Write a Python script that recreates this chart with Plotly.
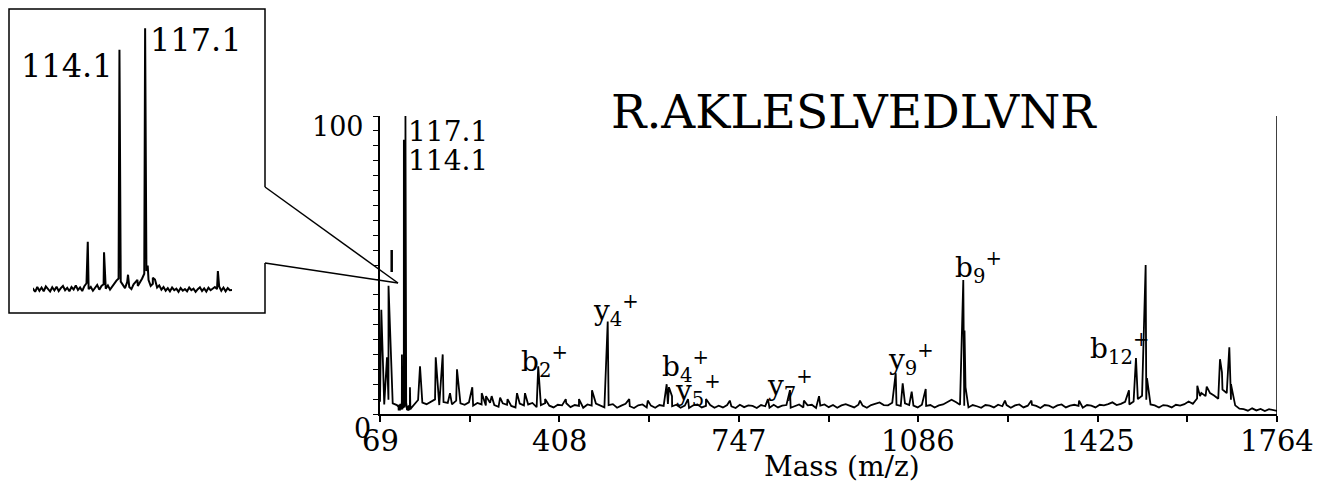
import plotly.graph_objects as go

W, H = 1319, 483
FONT = "DejaVu Serif"

# ---------------- data ----------------
# coarse baseline noise (relative abundance, %), sampled every 8 m/z from 69
base_start = 69
base_step = 8
baseline = [
    4.1, 3.2, 4.8, 3.6, 3.0, 4.6, 3.9, 4.3, 3.1, 4.7, 3.8, 3.3, 4.2, 4.9, 3.0, 4.0, 3.7, 3.2, 4.5, 3.6,
    3.1, 3.9, 2.8, 3.7, 3.2, 2.9, 3.8, 3.0, 2.4, 3.6, 3.1, 2.7, 2.2, 3.5, 2.9, 3.2, 3.7, 2.3, 3.0, 3.6,
    2.8, 2.2, 3.1, 2.9, 3.6, 2.3, 3.0, 2.7, 2.1, 3.2, 2.8, 3.5, 2.9, 2.2, 3.0, 3.3, 2.1, 2.8, 3.4, 2.6,
    2.0, 2.9, 3.2, 2.2, 2.8, 2.1, 3.0, 2.7, 3.4, 2.6, 3.1, 2.1, 2.8, 2.0, 2.9, 3.2, 2.2, 2.7, 3.0, 2.1,
    2.8, 2.2, 3.0, 2.6, 2.0, 3.1, 2.3, 2.9, 2.7, 2.0, 3.0, 2.6, 2.1, 3.1, 2.2, 2.8, 3.0, 2.1, 2.7, 3.2,
    2.2, 2.9, 3.1, 2.0, 2.8, 3.2, 2.3, 3.0, 2.1, 2.9, 3.3, 2.7, 2.2, 3.1, 2.8, 2.1, 3.0, 3.4, 3.9, 3.0,
    2.9, 3.8, 3.1, 2.7, 3.6, 3.0, 2.8, 2.2, 3.1, 2.7, 3.0, 2.2, 2.9, 3.2, 3.9, 4.8, 4.0, 3.1, 2.8, 2.2,
    3.0, 2.6, 2.1, 3.0, 2.8, 2.2, 3.1, 2.6, 3.0, 2.1, 2.9, 3.2, 2.2, 2.8, 3.1, 2.7, 2.0, 3.0, 2.8, 2.1,
    2.9, 3.2, 2.2, 2.8, 3.1, 2.7, 2.1, 3.0, 2.8, 2.2, 3.1, 2.9, 3.3, 3.9, 3.0, 3.4, 4.1, 3.2, 4.2, 5.0,
    6.1, 4.8, 3.2, 2.9, 2.2, 3.0, 2.8, 2.2, 3.1, 2.8, 3.3, 4.2, 3.4, 5.2, 7.1, 6.0, 7.3, 6.2, 5.1, 8.2,
    7.0, 4.8, 2.9, 1.8, 1.6, 1.1, 1.9, 1.2, 1.7, 1.0, 1.6, 1.2, 1.0,
]

# fine baseline around the reporter-ion region, every 0.25 m/z from 104
fine_start = 104.0
fine_step = 0.25
fine_baseline = [
    2.4, 1.2, 3.0, 1.6, 2.8, 1.4, 3.2, 2.0, 1.3, 2.9,
    1.7, 3.1, 1.5, 2.6, 3.4, 1.8, 2.7, 1.4, 3.0, 2.1,
    3.6, 1.9, 2.8, 1.5, 3.3, 4.4, 2.2, 3.0, 1.6, 2.9,
    3.8, 2.0, 3.4, 4.0, 2.4, 3.6, 2.0, 3.2, 4.6, 5.4,
    6.2, 5.0, 3.6, 2.6, 4.8, 3.0, 2.2, 4.0, 5.0, 3.4,
    4.6, 6.2, 8.0, 9.0, 5.6, 3.4, 4.2, 5.8, 2.8, 3.6,
    2.0, 3.0, 1.6, 2.6, 1.4, 2.8, 1.8, 2.4, 1.2, 2.6,
    1.6, 2.2, 1.4, 2.8, 1.8, 2.4, 1.2, 2.2, 2.9, 1.5,
    2.5, 1.3, 2.7, 1.8, 2.4, 3.0, 2.2, 3.2, 1.6, 2.8,
    1.4, 2.6, 1.8,
]

# peak list: m/z and relative intensity (%)
peak_mz = [
    71.5, 82.2, 85.1, 110.4, 112.3, 114.1, 115.1, 116.2, 117.1, 117.4, 118.0, 125.6,
    144.6, 174.3, 187.5, 201.3, 214.5, 220.2, 243.4, 261.2, 269.3, 280.0, 296.0, 310.0,
    327.9, 343.0, 368.0, 371.5, 381.0, 420.0, 445.0, 469.6, 499.3, 540.0, 575.0,
    610.7, 615.0, 620.8, 651.0, 685.0, 730.0, 802.0, 843.7, 870.0, 898.6, 976.0,
    1043.5, 1056.7, 1073.7, 1100.2, 1171.2, 1173.5, 1175.4, 1250.0, 1300.0, 1390.0,
    1484.3, 1497.5, 1515.8, 1518.3, 1613.4, 1618.5, 1631.2, 1637.5, 1656.3, 1660.0,
    1673.9, 1677.0,
]
peak_int = [
    35.0, 19.0, 43.0, 20.0, 16.0, 92.0, 7.6, 5.7, 100.0, 11.0, 6.5, 9.0,
    16.0, 19.0, 20.0, 7.0, 15.0, 6.0, 9.0, 7.0, 6.0, 6.0, 5.5, 5.0,
    7.0, 7.0, 16.0, 6.0, 5.0, 5.0, 5.0, 8.0, 31.0, 5.0, 4.5,
    10.0, 9.0, 6.0, 5.0, 5.0, 4.5, 5.0, 8.0, 4.5, 6.0, 4.5,
    13.7, 10.3, 7.5, 8.4, 45.0, 28.0, 9.0, 4.5, 4.5, 4.5,
    8.0, 18.8, 50.0, 12.0, 9.5, 6.0, 9.2, 7.0, 18.4, 14.0,
    22.4, 10.0,
]

x_ticks = [69, 408, 747, 1086, 1425, 1764]
x_minor = [238.5, 577.5, 916.5, 1255.5, 1594.5]

peptide = "R.AKLESLVEDLVNR"
ion_text = [
    "b<sub>2</sub><sup>+</sup>", "y<sub>4</sub><sup>+</sup>", "b<sub>4</sub><sup>+</sup>",
    "y<sub>5</sub><sup>+</sup>", "y<sub>7</sub><sup>+</sup>", "y<sub>9</sub><sup>+</sup>",
    "b<sub>9</sub><sup>+</sup>", "b<sub>12</sub><sup>+</sup>",
]

# ---------------- build spectrum ----------------
fine_end = fine_start + fine_step * (len(fine_baseline) - 1)
pts = []
for i, v in enumerate(baseline):
    m = base_start + i * base_step
    if fine_start <= m <= fine_end:
        continue
    pts.append((m, v))
for j, v in enumerate(fine_baseline):
    pts.append((fine_start + j * fine_step, v))
for m, v in zip(peak_mz, peak_int):
    pts.append((m, v))
pts.sort(key=lambda p: p[0])
spec_x = [p[0] for p in pts]
spec_y = [p[1] for p in pts]

fig = go.Figure()
fig.add_trace(go.Scatter(x=spec_x, y=spec_y, mode="lines",
                         line=dict(color="black", width=1.8), xaxis="x", yaxis="y",
                         hoverinfo="skip"))
fig.add_trace(go.Scatter(x=spec_x, y=spec_y, mode="lines",
                         line=dict(color="black", width=2.0), xaxis="x2", yaxis="y2",
                         hoverinfo="skip"))


def fx(px):
    return px / W


def fy(py):
    return 1 - py / H


# ---------------- layout ----------------
fig.update_layout(
    template="none",
    width=W, height=H,
    margin=dict(l=0, r=0, t=0, b=0, pad=0, autoexpand=False),
    paper_bgcolor="white", plot_bgcolor="white",
    showlegend=False,
    font=dict(family=FONT, color="black"),
    xaxis=dict(domain=[fx(380), fx(1277)], range=[69, 1764], showline=True,
               linecolor="black", linewidth=1.5, ticks="outside", ticklen=6,
               tickwidth=1.5, tickcolor="black", tickvals=x_ticks,
               showticklabels=False,
               minor=dict(tickvals=x_minor, ticks="outside", ticklen=6,
                          tickwidth=1.5, tickcolor="black", showgrid=False),
               showgrid=False, zeroline=False, anchor="y", automargin=False),
    yaxis=dict(domain=[fy(414), fy(116)], range=[0, 100], showline=True,
               linecolor="black", linewidth=1.5, ticks="outside", ticklen=5,
               tickwidth=1.2, tickcolor="black", tickvals=list(range(0, 101, 5)),
               showticklabels=False, showgrid=False, zeroline=False, anchor="x",
               automargin=False),
    xaxis2=dict(domain=[fx(33), fx(232)], range=[104, 127.25], visible=False,
                anchor="y2", automargin=False),
    yaxis2=dict(domain=[fy(295), fy(27)], range=[0, 100.5], visible=False,
                anchor="x2", automargin=False),
)

shapes = []
# right frame line of the spectrum
shapes.append(dict(type="line", xref="x", yref="y", x0=1764, x1=1764, y0=0, y1=100,
                   line=dict(color="black", width=1.5)))
# inset box with opening toward the callout
path = "M {} {} L {} {} L {} {} L {} {} L {} {} L {} {}".format(
    fx(265), fy(187), fx(265), fy(9), fx(9), fy(9), fx(9), fy(313),
    fx(265), fy(313), fx(265), fy(263))
shapes.append(dict(type="path", xref="paper", yref="paper", path=path,
                   line=dict(color="black", width=1.5)))
shapes.append(dict(type="line", xref="paper", yref="paper", x0=fx(265), y0=fy(187),
                   x1=fx(398), y1=fy(283), line=dict(color="black", width=1.5)))
shapes.append(dict(type="line", xref="paper", yref="paper", x0=fx(265), y0=fy(263),
                   x1=fx(398), y1=fy(283), line=dict(color="black", width=1.5)))
# small stray mark
shapes.append(dict(type="line", xref="paper", yref="paper", x0=fx(391.7), y0=fy(250),
                   x1=fx(391.7), y1=fy(272), line=dict(color="black", width=2.5)))
fig.update_layout(shapes=shapes)

ann = []


def add(text, x, y, size, xanchor="center", yanchor="middle", xref="paper", yref="paper"):
    ann.append(dict(text=text, x=x, y=y, xref=xref, yref=yref, showarrow=False,
                    xanchor=xanchor, yanchor=yanchor,
                    font=dict(family=FONT, size=size, color="black")))


# x tick labels
for v in x_ticks:
    add(str(v), v, fy(441), 29, xref="x")

add(peptide, fx(854), fy(111), 47)
add("100", fx(338), fy(126), 27)
add("0", fx(362), fy(428), 27)
add("117.1", fx(406), fy(131), 28, xanchor="left")
add("114.1", fx(406), fy(161), 28, xanchor="left")
add("114.1", fx(67), fy(66), 32)
add("117.1", fx(196), fy(40), 32)
add("Mass (m/z)", fx(842), fy(466), 28)

# ion labels, positioned in data coordinates near their peaks
ion_pos = [(332, 17.6), (467, 34.6), (599, 16.0), (622, 7.9),
           (797, 9.6), (1026, 18.2), (1151, 49.0), (1406, 22.0)]
for t, (xm, yi) in zip(ion_text, ion_pos):
    add(t, xm, yi, 28, xanchor="left", xref="x", yref="y")

fig.update_layout(annotations=ann)

fig.write_html("out.html")
